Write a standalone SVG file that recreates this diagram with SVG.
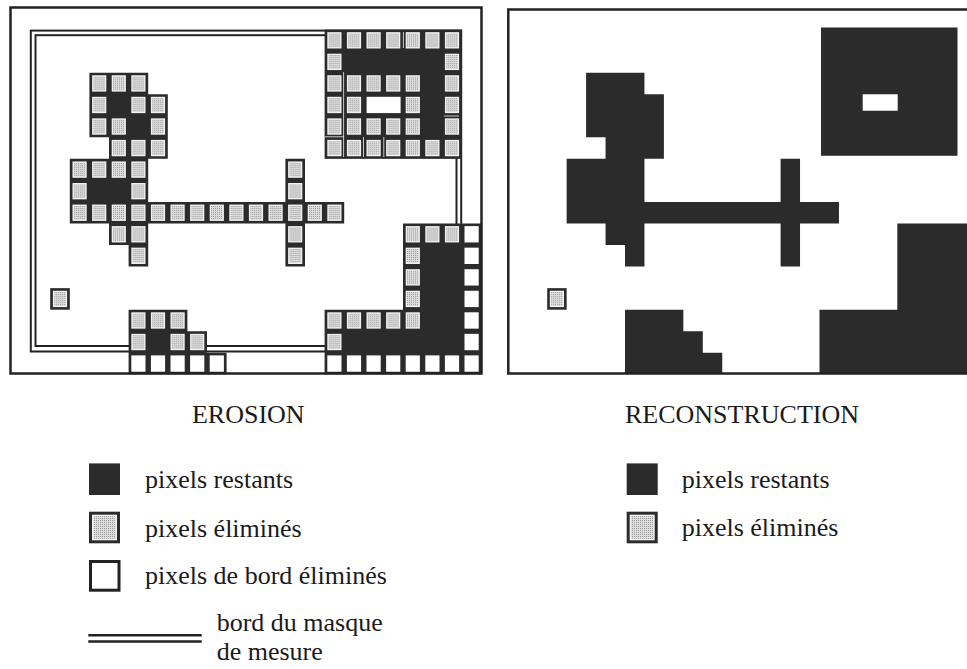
<svg xmlns="http://www.w3.org/2000/svg" width="967" height="669" viewBox="0 0 967 669">
<style>
.dk{fill:#2b2b2b}
.fr{fill:none;stroke:#222;stroke-width:2.5}
.mask{fill:none;stroke:#222;stroke-width:2}
.art{stroke:#f0f0f0;stroke-width:1;fill:none;opacity:0.8}
.t{font-family:"Liberation Serif","Times New Roman",serif;font-size:26px;fill:#1a1a1a}
.lt{font-family:"Liberation Serif","Times New Roman",serif;font-size:26px;fill:#1a1a1a}
</style>
<defs>
<pattern id="stip" width="2" height="2" patternUnits="userSpaceOnUse"><rect width="2" height="2" fill="#dcdcdc"/><rect width="1" height="1" fill="#9a9a9a"/></pattern>
<g id="g"><rect x="2.7" y="2.6" width="14.2" height="16.35" fill="#f0f0f0"/><rect x="4" y="3.9" width="11.6" height="13.75" fill="url(#stip)"/></g>
<rect id="w" x="2.7" y="2.6" width="14.2" height="16.35" fill="#ffffff"/>
</defs>
<rect width="967" height="669" fill="#ffffff"/>

<!-- EROSION panel -->
<g id="erosion-panel">
<g id="mask-border">
<rect class="mask" x="30.8" y="30.6" width="430.4" height="320.9"/>
<rect class="mask" x="35.5" y="35.2" width="421" height="310.8"/>
</g>

<g id="e-shape-topleft">
<path class="dk" d="M89.4 72.65h58.8v21.55h-58.8z M89.4 94.2h78.4v43.1h-78.4z M109 137.3h58.8v21.55h-58.8z M69.8 158.85h78.4v43.1h-78.4z M69.8 201.95h274.4v21.55h-274.4z M109 223.5h39.2v21.55h-39.2z M128.6 245.05h19.6v21.55h-19.6z M285.4 158.85h19.6v107.75h-19.6z"/>
<use href="#g" x="89.4" y="72.65"/><use href="#g" x="109" y="72.65"/><use href="#g" x="128.6" y="72.65"/>
<use href="#g" x="89.4" y="94.2"/><use href="#g" x="128.6" y="94.2"/><use href="#g" x="148.2" y="94.2"/>
<use href="#g" x="89.4" y="115.75"/><use href="#g" x="109" y="115.75"/><use href="#g" x="148.2" y="115.75"/>
<use href="#g" x="109" y="137.3"/><use href="#g" x="128.6" y="137.3"/><use href="#g" x="148.2" y="137.3"/>
<use href="#g" x="69.8" y="158.85"/><use href="#g" x="89.4" y="158.85"/><use href="#g" x="109" y="158.85"/><use href="#g" x="128.6" y="158.85"/><use href="#g" x="285.4" y="158.85"/>
<use href="#g" x="69.8" y="180.4"/><use href="#g" x="128.6" y="180.4"/><use href="#g" x="285.4" y="180.4"/>
<use href="#g" x="69.8" y="201.95"/><use href="#g" x="89.4" y="201.95"/><use href="#g" x="109" y="201.95"/><use href="#g" x="128.6" y="201.95"/><use href="#g" x="148.2" y="201.95"/><use href="#g" x="167.8" y="201.95"/><use href="#g" x="187.4" y="201.95"/><use href="#g" x="207" y="201.95"/><use href="#g" x="226.6" y="201.95"/><use href="#g" x="246.2" y="201.95"/><use href="#g" x="265.8" y="201.95"/><use href="#g" x="285.4" y="201.95"/><use href="#g" x="305" y="201.95"/><use href="#g" x="324.6" y="201.95"/>
<use href="#g" x="109" y="223.5"/><use href="#g" x="128.6" y="223.5"/><use href="#g" x="285.4" y="223.5"/>
<use href="#g" x="128.6" y="245.05"/><use href="#g" x="285.4" y="245.05"/>
</g>

<g id="e-shape-single">
<rect class="dk" x="50.2" y="288.15" width="19.6" height="21.55"/>
<use href="#g" x="50.2" y="288.15"/>
</g>

<g id="e-shape-topright">
<rect class="dk" x="324.6" y="29.55" width="137.2" height="129.3"/>
<use href="#g" x="324.6" y="29.55"/><use href="#g" x="344.2" y="29.55"/><use href="#g" x="363.8" y="29.55"/><use href="#g" x="383.4" y="29.55"/><use href="#g" x="403" y="29.55"/><use href="#g" x="422.6" y="29.55"/><use href="#g" x="442.2" y="29.55"/>
<use href="#g" x="324.6" y="51.1"/><use href="#g" x="442.2" y="51.1"/>
<use href="#g" x="324.6" y="72.65"/><use href="#g" x="344.2" y="72.65"/><use href="#g" x="363.8" y="72.65"/><use href="#g" x="383.4" y="72.65"/><use href="#g" x="403" y="72.65"/><use href="#g" x="442.2" y="72.65"/>
<use href="#g" x="324.6" y="94.2"/><use href="#g" x="344.2" y="94.2"/><use href="#g" x="403" y="94.2"/><use href="#g" x="442.2" y="94.2"/>
<use href="#g" x="324.6" y="115.75"/><use href="#g" x="344.2" y="115.75"/><use href="#g" x="363.8" y="115.75"/><use href="#g" x="383.4" y="115.75"/><use href="#g" x="403" y="115.75"/><use href="#g" x="442.2" y="115.75"/>
<use href="#g" x="324.6" y="137.3"/><use href="#g" x="344.2" y="137.3"/><use href="#g" x="363.8" y="137.3"/><use href="#g" x="383.4" y="137.3"/><use href="#g" x="403" y="137.3"/><use href="#g" x="422.6" y="137.3"/><use href="#g" x="442.2" y="137.3"/>
<rect x="366.6" y="96.8" width="34" height="16.3" fill="#ffffff"/>
<path class="art" d="M343.6 72v85 M325 136.8h18.6 M363.5 137v20 M383.8 137v20 M403.4 32v16 M444 116h15"/>
</g>

<g id="e-shape-bottomleft">
<path class="dk" d="M128.6 309.7h58.8v21.55h-58.8z M128.6 331.25h78.4v21.55h-78.4z M128.6 352.8h98v21.55h-98z"/>
<use href="#g" x="128.6" y="309.7"/><use href="#g" x="148.2" y="309.7"/><use href="#g" x="167.8" y="309.7"/>
<use href="#g" x="128.6" y="331.25"/><use href="#g" x="167.8" y="331.25"/><use href="#g" x="187.4" y="331.25"/>
<use href="#w" x="128.6" y="352.8"/><use href="#w" x="148.2" y="352.8"/><use href="#w" x="167.8" y="352.8"/><use href="#w" x="187.4" y="352.8"/><use href="#w" x="207" y="352.8"/>
</g>

<g id="e-shape-bottomright">
<path class="dk" d="M403 223.5h78.4v86.2h-78.4z M324.6 309.7h156.8v64.65h-156.8z"/>
<use href="#g" x="403" y="223.5"/><use href="#g" x="422.6" y="223.5"/><use href="#g" x="442.2" y="223.5"/>
<use href="#g" x="403" y="245.05"/><use href="#g" x="403" y="266.6"/><use href="#g" x="403" y="288.15"/>
<use href="#g" x="324.6" y="309.7"/><use href="#g" x="344.2" y="309.7"/><use href="#g" x="363.8" y="309.7"/><use href="#g" x="383.4" y="309.7"/><use href="#g" x="403" y="309.7"/>
<use href="#g" x="324.6" y="331.25"/>
<use href="#w" x="461.8" y="223.5"/><use href="#w" x="461.8" y="245.05"/><use href="#w" x="461.8" y="266.6"/><use href="#w" x="461.8" y="288.15"/><use href="#w" x="461.8" y="309.7"/><use href="#w" x="461.8" y="331.25"/><use href="#w" x="461.8" y="352.8"/>
<use href="#w" x="324.6" y="352.8"/><use href="#w" x="344.2" y="352.8"/><use href="#w" x="363.8" y="352.8"/><use href="#w" x="383.4" y="352.8"/><use href="#w" x="403" y="352.8"/><use href="#w" x="422.6" y="352.8"/><use href="#w" x="442.2" y="352.8"/>
</g>
<rect class="fr" x="10.5" y="7.5" width="471" height="366"/>
</g>

<!-- RECONSTRUCTION panel -->
<g id="reconstruction-panel">
<g id="r-shape-topleft">
<path class="dk" d="M586.1 72.65H644.45V94.2H663.9V158.85H644.45V201.95H780.6V158.85H800.05V201.95H838.95V223.5H800.05V266.6H780.6V223.5H644.45V266.6H625V245.05H605.55V223.5H566.65V158.85H605.55V137.3H586.1Z"/>
</g>
<g id="r-shape-single">
<rect class="dk" x="547.2" y="288.15" width="19.45" height="21.55"/>
<use href="#g" x="547.1" y="288.15"/>
</g>
<g id="r-shape-topright">
<path class="dk" fill-rule="evenodd" d="M821 27.5H957.5V155.7H821Z M862.7 94.3H897.7V110.7H862.7Z"/>
</g>
<g id="r-shape-bottomleft">
<path class="dk" d="M625 309.7H683.35V331.25H702.8V352.8H722.25V374H625Z"/>
</g>
<g id="r-shape-bottomright">
<path class="dk" d="M897.3 223.5H975V374H819.5V309.7H897.3Z"/>
</g>
<rect class="fr" x="508.3" y="9.5" width="480" height="364"/>
</g>

<!-- titles -->
<text class="t" x="248.3" y="423.3" text-anchor="middle">EROSION</text>
<text class="t" x="742" y="423.3" text-anchor="middle">RECONSTRUCTION</text>

<!-- legend erosion -->
<g id="legend-erosion">
<g id="le-remaining"><rect class="dk" x="89" y="463.4" width="31" height="31.6"/><text class="lt" x="145" y="487.5">pixels restants</text></g>
<g id="le-eliminated"><rect class="dk" x="89" y="511.7" width="31" height="31.6"/><rect x="92" y="514.7" width="25" height="25.6" fill="#f0f0f0"/><rect x="93.5" y="516.2" width="22" height="22.6" fill="url(#stip)"/><text class="lt" x="145" y="536.8">pixels éliminés</text></g>
<g id="le-edge"><rect x="90.5" y="561.5" width="28.5" height="28.7" fill="#ffffff" stroke="#222" stroke-width="3"/><text class="lt" x="145" y="583.5">pixels de bord éliminés</text></g>
<g id="le-mask"><line x1="88.3" y1="635.3" x2="201.7" y2="635.3" stroke="#222" stroke-width="2.5"/><line x1="88.3" y1="641.6" x2="201.7" y2="641.6" stroke="#222" stroke-width="2.5"/><text class="lt" x="216.7" y="631">bord du masque</text><text class="lt" x="216.7" y="660">de mesure</text></g>
</g>

<!-- legend reconstruction -->
<g id="legend-reconstruction">
<g id="lr-remaining"><rect class="dk" x="626.7" y="463.4" width="31" height="31.6"/><text class="lt" x="681.7" y="487.8">pixels restants</text></g>
<g id="lr-eliminated"><rect class="dk" x="626.7" y="511.7" width="31" height="31.6"/><rect x="629.7" y="514.7" width="25" height="25.6" fill="#f0f0f0"/><rect x="631.2" y="516.2" width="22" height="22.6" fill="url(#stip)"/><text class="lt" x="681.7" y="536.3">pixels éliminés</text></g>
</g>
</svg>
